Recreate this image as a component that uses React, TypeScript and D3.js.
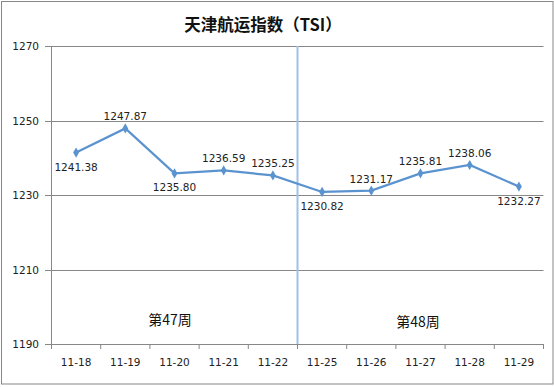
import React from "react";
import * as d3 from "d3";

const categories = ["11-18", "11-19", "11-20", "11-21", "11-22", "11-25", "11-26", "11-27", "11-28", "11-29"];
const values = [1241.38, 1247.87, 1235.80, 1236.59, 1235.25, 1230.82, 1231.17, 1235.81, 1238.06, 1232.27];
const labelPos = ["below", "above", "below", "above", "above", "below", "above", "above", "above", "below"];
const yTicks = [1190, 1210, 1230, 1250, 1270];
const weekLabels = ["第47周", "第48周"];
const title = "天津航运指数（TSI）";

export default function App() {
  const W = 554, H = 387;
  const left = 51.5, right = 543.5, top = 46, bottom = 344;
  const x = d3.scaleBand<string>().domain(categories).range([left, right]);
  const y = d3.scaleLinear().domain([1190, 1270]).range([bottom, top]);
  const cx = (c: string) => (x(c) as number) + x.bandwidth() / 2;
  const line = d3.line<number>().x((_, i) => cx(categories[i])).y((v) => y(v));
  const sepX = x(categories[5]) as number;
  const numFont = "'DejaVu Sans', sans-serif";
  const cjkFont = "'Noto Sans CJK SC', sans-serif";
  const grid = "#878787";
  const diamond = d3.symbol().type(d3.symbolDiamond).size(30)();

  return (
    <svg width={W} height={H} style={{ position: "absolute", left: 0, top: 0, background: "#fff" }}>
      <rect x={1.5} y={1.5} width={551.5} height={382.5} fill="#fff" stroke="#878787" strokeWidth={1} />
      <text x={263} y={31} textAnchor="middle" fontFamily={cjkFont} fontSize={16.5} fontWeight="bold" fill="#111">
        {title}
      </text>
      {yTicks.map((t) => (
        <g key={t}>
          <line x1={45} x2={right} y1={Math.round(y(t)) + 0.5} y2={Math.round(y(t)) + 0.5} stroke={grid} />
          <text x={39} y={y(t) + 4} textAnchor="end" fontFamily={numFont} fontSize={10.5} fill="#222">
            {t}
          </text>
        </g>
      ))}
      <line x1={left} x2={left} y1={top} y2={bottom + 0.5} stroke={grid} />
      {categories.map((c) => (
        <g key={c}>
          <line x1={(x(c) as number)} x2={(x(c) as number)} y1={bottom} y2={bottom + 5} stroke={grid} />
          <text x={cx(c)} y={366} textAnchor="middle" fontFamily={numFont} fontSize={10.5} fill="#222">
            {c}
          </text>
        </g>
      ))}
      <line x1={right} x2={right} y1={bottom} y2={bottom + 5} stroke={grid} />
      <line x1={sepX} x2={sepX} y1={top} y2={bottom} stroke="#9DC3E6" strokeWidth={2} />
      <text x={170} y={325} textAnchor="middle" fontFamily={cjkFont} fontSize={14} fill="#111">{weekLabels[0]}</text>
      <text x={418} y={327} textAnchor="middle" fontFamily={cjkFont} fontSize={14} fill="#111">{weekLabels[1]}</text>
      <path d={line(values) || ""} fill="none" stroke="#5B93CF" strokeWidth={2.2} />
      {values.map((v, i) => (
        <path key={i} d={diamond || ""} transform={`translate(${cx(categories[i])},${y(v)})`} fill="#5B93CF" />
      ))}
      {values.map((v, i) => (
        <text
          key={"l" + i}
          x={cx(categories[i])}
          y={labelPos[i] === "above" ? y(v) - 8 : y(v) + 18}
          textAnchor="middle"
          fontFamily={numFont}
          fontSize={10.5}
          fill="#222"
        >
          {v.toFixed(2)}
        </text>
      ))}
    </svg>
  );
}
